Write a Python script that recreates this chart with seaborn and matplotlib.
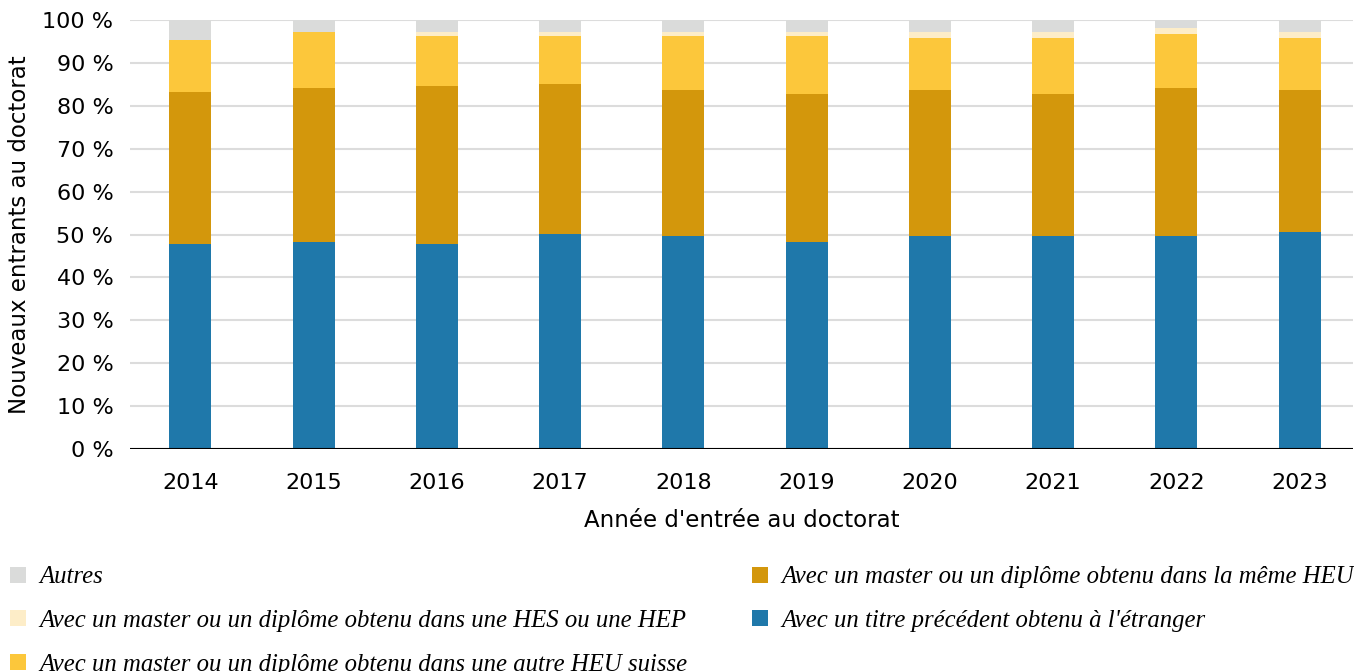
import numpy as np
import pandas as pd
import matplotlib
matplotlib.use("Agg")
import matplotlib.pyplot as plt
import seaborn as sns
from matplotlib.patches import Patch

# Data (share of new doctoral entrants, %)
years = ["2014", "2015", "2016", "2017", "2018", "2019", "2020", "2021", "2022", "2023"]
etranger = [47.8, 48.2, 47.8, 50.1, 49.6, 48.2, 49.6, 49.6, 49.6, 50.6]
meme_heu = [35.5, 35.9, 36.8, 35.0, 34.1, 34.6, 34.1, 33.2, 34.5, 33.1]
autre_heu = [12.0, 13.1, 11.7, 11.2, 12.6, 13.5, 12.1, 13.0, 12.6, 12.1]
hes_hep = [0.0, 0.0, 0.9, 0.9, 0.9, 0.9, 1.4, 1.4, 1.4, 1.4]
autres = [4.7, 2.8, 2.8, 2.8, 2.8, 2.8, 2.8, 2.8, 1.9, 2.8]

labels = [
    "Avec un titre précédent obtenu à l'étranger",
    "Avec un master ou un diplôme obtenu dans la même HEU",
    "Avec un master ou un diplôme obtenu dans une autre HEU suisse",
    "Avec un master ou un diplôme obtenu dans une HES ou une HEP",
    "Autres",
]
colors = ["#1f78aa", "#d3970c", "#fcc73b", "#fdedc8", "#dadbda"]

df = pd.DataFrame({"year": years, labels[0]: etranger, labels[1]: meme_heu,
                   labels[2]: autre_heu, labels[3]: hes_hep, labels[4]: autres})

sns.set_style("white")
plt.rcParams["font.family"] = ["DejaVu Sans"]
plt.rcParams["text.color"] = "black"
plt.rcParams["axes.labelcolor"] = "black"
plt.rcParams["xtick.color"] = "black"
plt.rcParams["ytick.color"] = "black"

fig, ax = plt.subplots(figsize=(13.54, 6.72), dpi=100)
fig.subplots_adjust(left=0.096, right=0.999, top=0.970, bottom=0.332)

bottom = np.zeros(len(years))
for lab, col in zip(labels, colors):
    sns.barplot(data=df, x="year", y=lab, color=col, width=0.34,
                bottom=bottom, ax=ax, saturation=1, linewidth=0)
    bottom = bottom + df[lab].values

ax.set_ylim(0, 100)
ax.set_xlim(-0.49, 9.43)
ax.set_yticks(range(0, 101, 10))
ax.set_yticklabels([f"{v} %" for v in range(0, 101, 10)])
ax.yaxis.grid(True, color="#dcdcdc", linewidth=1.5)
ax.set_axisbelow(True)
for s in ["top", "right", "left", "bottom"]:
    ax.spines[s].set_visible(False)
ax.axhline(0, color="black", linewidth=1.5, zorder=5)

ax.tick_params(axis="y", length=0, pad=12, labelsize=16)
ax.tick_params(axis="x", length=0, pad=17, labelsize=16)

ax.set_xlabel("Année d'entrée au doctorat", fontsize=16.5, labelpad=12)
ax.set_ylabel("Nouveaux entrants au doctorat", fontsize=16.5, labelpad=8)

# Legend: two columns placed separately, reverse stacking order
legend_font = {"family": "Liberation Serif", "style": "italic", "size": 17.8}
columns = [([4, 3, 2], 0.0074), ([1, 0], 0.5555)]
for idx, xpos in columns:
    handles = [Patch(facecolor=colors[i], edgecolor="none") for i in idx]
    leg = fig.legend(handles, [labels[i] for i in idx], loc="upper left",
                     bbox_to_anchor=(xpos, 0.157), frameon=False,
                     handlelength=0.64, handleheight=0.64, handletextpad=0.56,
                     labelspacing=0.87, borderpad=0, borderaxespad=0,
                     prop=legend_font)

fig.savefig("out.png", dpi=100)
